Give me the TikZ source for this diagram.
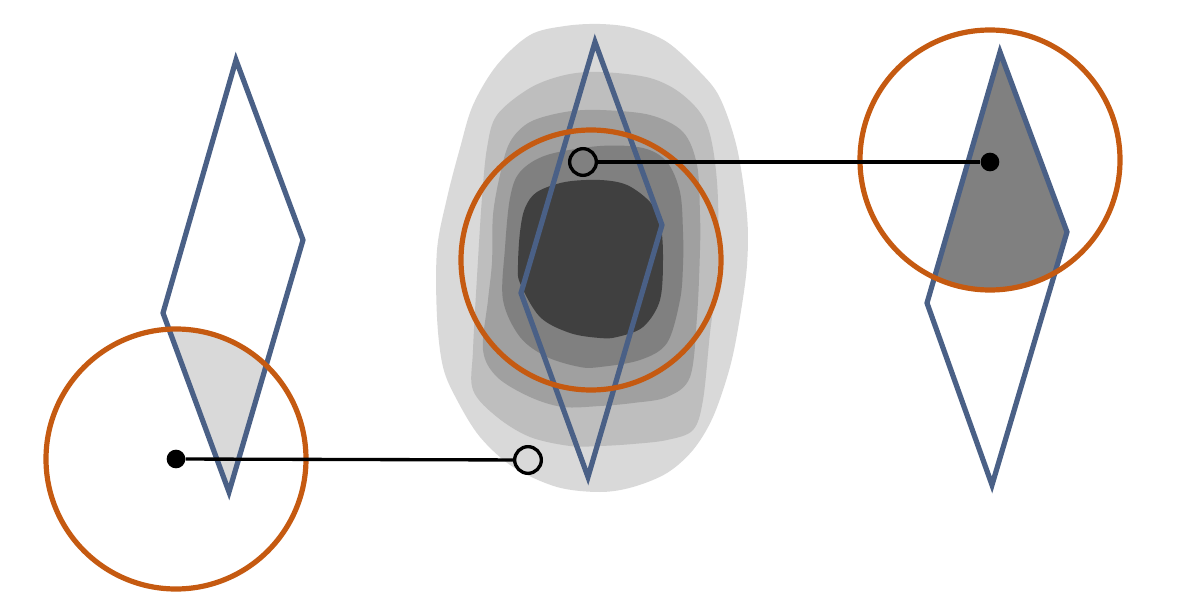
\documentclass[tikz,border=0pt]{standalone}
\begin{document}
\begin{tikzpicture}[x=0.75pt,y=-0.75pt,
  diamondline/.style={draw=dblue,line width=3.9pt,line join=miter},
  ringline/.style={draw=dorange,line width=3.9pt},
  fulldot/.style={circle,fill=black,inner sep=0pt,minimum size=14pt},
  opendot/.style={circle,draw=black,line width=2.5pt,inner sep=0pt,minimum size=20pt},
  linker/.style={draw=black,line width=2.5pt},
  level/.style={smooth cycle,tension=0.55}]
\definecolor{dblue}{RGB}{74,96,134}
\definecolor{dorange}{RGB}{197,90,17}
\definecolor{g1}{RGB}{217,217,217}
\definecolor{g2}{RGB}{190,190,190}
\definecolor{g3}{RGB}{160,160,160}
\definecolor{g4}{RGB}{128,128,128}
\definecolor{g5}{RGB}{64,64,64}
\useasboundingbox (0,0) rectangle (1179,610);
% contours
\fill[g1] plot[level] coordinates {(600,24) (633,28) (667,42) (700,72) (720,98) (737,148) (747,215) (747,265) (740,317) (730,367) (713,417) (693,450) (667,473) (633,487) (600,492) (557,487) (513,467) (480,437) (457,400) (443,367) (437,317) (437,250) (447,198) (460,148) (473,105) (497,65) (530,35) (565,26)};
\fill[g2] plot[level] coordinates {(600,72) (650,78) (683,95) (707,125) (717,182) (718,265) (710,333) (703,400) (693,430) (667,440) (633,444) (600,446) (570,446) (530,437) (497,417) (473,390) (473,350) (478,260) (482,198) (487,148) (497,115) (530,88) (565,75)};
\fill[g3] plot[level] coordinates {(600,110) (650,115) (683,132) (697,165) (700,215) (700,250) (697,317) (690,377) (667,397) (633,403) (600,406) (563,407) (530,397) (497,377) (483,350) (488,300) (492,262) (493,215) (500,175) (510,142) (530,122) (565,112)};
\fill[g4] plot[level] coordinates {(600,146) (643,148) (667,162) (680,192) (683,232) (683,265) (680,300) (667,343) (640,360) (600,367) (580,367) (547,357) (520,337) (503,300) (505,248) (510,198) (520,172) (547,155)};
\fill[g5] plot[level] coordinates {(600,180) (627,185) (650,202) (660,222) (663,255) (660,300) (643,327) (617,337) (600,338) (570,333) (540,317) (520,283) (518,265) (520,232) (525,208) (537,192) (565,182)};
% intersection fills
\begin{scope}
\clip (176,459) circle[radius=130];
\fill[g1] (236,60) -- (303,240) -- (229,492) -- (163,313) -- cycle;
\end{scope}
\begin{scope}
\clip (990,160) circle[radius=130];
\fill[g4] (1000,52) -- (1067,232) -- (992,485) -- (927,303) -- cycle;
\end{scope}
% diamonds
\draw[diamondline] (236,60) -- (303,240) -- (229,492) -- (163,313) -- cycle;
\draw[diamondline] (595,42) -- (662,225) -- (588,477) -- (521,293) -- cycle;
\draw[diamondline] (1000,52) -- (1067,232) -- (992,485) -- (927,303) -- cycle;
% circles
\draw[ringline] (176,459) circle[radius=130];
\draw[ringline] (591,260) circle[radius=130];
\draw[ringline] (990,160) circle[radius=130];
% dots and connectors
\node[fulldot] (fa) at (176,459) {};
\node[opendot] (oa) at (528,460) {};
\node[opendot] (ob) at (583,162) {};
\node[fulldot] (fb) at (990,162) {};
\draw[linker] (fa) -- (oa);
\draw[linker] (ob) -- (fb);
\end{tikzpicture}
\end{document}
